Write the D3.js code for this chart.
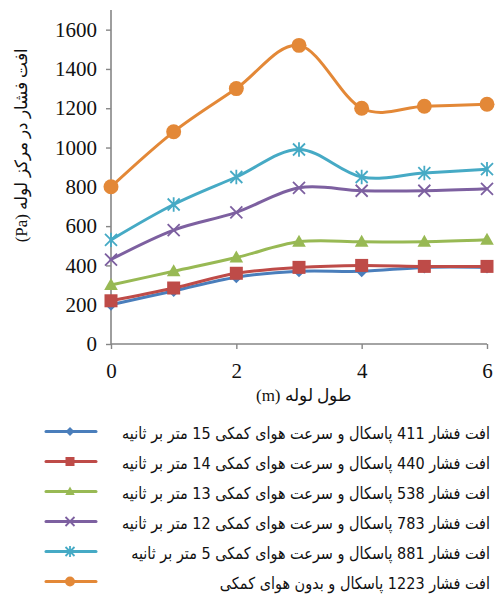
<!DOCTYPE html>
<html>
<head>
<meta charset="utf-8">
<script src="https://cdn.jsdelivr.net/npm/d3@7"></script>
<style>
  html, body { margin: 0; padding: 0; background: #fff; }
  svg { display: block; }
  .serif { font-family: "Liberation Serif", "Times New Roman", "DejaVu Serif", serif; }
</style>
</head>
<body>
<svg id="chart" width="495" height="594"></svg>
<script>
const xValues = [0, 1, 2, 3, 4, 5, 6];
const xTicks = [0, 2, 4, 6];
const yTicks = [0, 200, 400, 600, 800, 1000, 1200, 1400, 1600];

const seriesNames = [
  "افت فشار 411 پاسکال و سرعت هوای کمکی 15 متر بر ثانیه",
  "افت فشار 440 پاسکال و سرعت هوای کمکی 14 متر بر ثانیه",
  "افت فشار 538 پاسکال و سرعت هوای کمکی 13 متر بر ثانیه",
  "افت فشار 783 پاسکال و سرعت هوای کمکی 12 متر بر ثانیه",
  "افت فشار 881 پاسکال و سرعت هوای کمکی 5 متر بر ثانیه",
  "افت فشار 1223 پاسکال و بدون هوای کمکی"
];
const s15 = [200, 270, 340, 370, 370, 390, 390];
const s14 = [220, 285, 360, 390, 400, 395, 395];
const s13 = [300, 370, 440, 520, 520, 520, 530];
const s12 = [430, 580, 670, 795, 780, 780, 790];
const s5  = [530, 710, 850, 990, 850, 870, 890];
const s0  = [800, 1080, 1300, 1520, 1200, 1210, 1220];
const seriesValues = [s15, s14, s13, s12, s5, s0];
const colors = ["#4A7EBB", "#BE4B48", "#98B954", "#7D60A0", "#46AAC5", "#E38837"];
const markers = ["diamond", "square", "triangle", "x", "star", "circle"];

const yTitle = "افت فشار در مرکز لوله  (Pa)";
const xTitle = "طول لوله (m)";

const svg = d3.select("#chart");
const axisColor = "#868686";

const x = d3.scaleLinear().domain([0, 6]).range([111, 487]);
const y = d3.scaleLinear().domain([0, 1700]).range([344, 10]);

const yAxis = svg.append("g").attr("transform", `translate(${x(0)},0)`)
  .call(d3.axisLeft(y).tickValues(yTicks).tickSize(5).tickPadding(9).tickFormat(d3.format("d")));
const xAxis = svg.append("g").attr("transform", `translate(0,${y(0)})`)
  .call(d3.axisBottom(x).tickValues(xTicks).tickSize(5).tickPadding(14).tickFormat(d3.format("d")));
[yAxis, xAxis].forEach(g => {
  g.attr("font-family", null).attr("font-size", null).attr("class", "serif");
  g.select(".domain").attr("stroke", axisColor).attr("stroke-width", 1.6);
  g.selectAll(".tick line").attr("stroke", axisColor).attr("stroke-width", 1.4);
  g.selectAll("text").attr("fill", "#111").style("font-size", "21px");
});
yAxis.select(".domain").attr("d", `M0,${y(0)}V${y(1700)}`);
xAxis.select(".domain").attr("d", `M${x(0)},0H${x(6)}`);

svg.append("text")
  .attr("class", "serif")
  .attr("transform", `translate(23,${(40 + 250) / 2}) rotate(-90)`)
  .attr("text-anchor", "middle")
  .attr("dominant-baseline", "middle")
  .style("font-size", "17px").attr("fill", "#111")
  .attr("direction", "rtl")
  .text(yTitle);
svg.append("text")
  .attr("class", "serif")
  .attr("x", 304).attr("y", 401)
  .attr("text-anchor", "middle")
  .attr("direction", "rtl")
  .style("font-size", "17px").attr("fill", "#111")
  .text(xTitle);

function drawMarker(g, type, color, s) {
  if (type === "diamond") {
    g.append("path").attr("d", `M0,${-s}L${s},0L0,${s}L${-s},0Z`).attr("fill", color);
  } else if (type === "square") {
    g.append("rect").attr("x", -s).attr("y", -s).attr("width", 2 * s).attr("height", 2 * s).attr("fill", color);
  } else if (type === "triangle") {
    g.append("path").attr("d", `M0,${-s * 1.1}L${s * 1.05},${s * 0.75}L${-s * 1.05},${s * 0.75}Z`).attr("fill", color);
  } else if (type === "x") {
    g.append("path").attr("d", `M${-s},${-s}L${s},${s}M${-s},${s}L${s},${-s}`).attr("stroke", color).attr("stroke-width", 1.8);
  } else if (type === "star") {
    g.append("path").attr("d", `M${-s},${-s}L${s},${s}M${-s},${s}L${s},${-s}M0,${-s * 1.2}L0,${s * 1.2}`).attr("stroke", color).attr("stroke-width", 1.8);
  } else if (type === "circle") {
    g.append("circle").attr("r", s * 1.1).attr("fill", color);
  }
}
const markerSize = { diamond: 6, square: 6.5, triangle: 6.5, x: 6, star: 6, circle: 6.8 };

const line = d3.line().x((d, i) => x(xValues[i])).y(d => y(d)).curve(d3.curveCardinal.tension(0));

seriesValues.forEach((vals, k) => {
  const g = svg.append("g");
  g.append("path").datum(vals).attr("d", line)
    .attr("fill", "none").attr("stroke", colors[k]).attr("stroke-width", 3)
    .attr("stroke-linejoin", "round").attr("stroke-linecap", "round");
  vals.forEach((v, i) => {
    const mg = g.append("g").attr("transform", `translate(${x(xValues[i])},${y(v)})`);
    drawMarker(mg, markers[k], colors[k], markerSize[markers[k]]);
  });
});

const legendY = [431.5, 461.5, 491.5, 521.5, 551.5, 581.5];
const legendTexts = [];
seriesNames.forEach((name, k) => {
  const g = svg.append("g").attr("transform", `translate(0,${legendY[k]})`);
  g.append("line").attr("x1", 46).attr("x2", 96).attr("y1", 0).attr("y2", 0)
    .attr("stroke", colors[k]).attr("stroke-width", 3).attr("stroke-linecap", "round");
  const mg = g.append("g").attr("transform", "translate(70,0)");
  drawMarker(mg, markers[k], colors[k], 4.5);
  const t = g.append("g").attr("transform", "translate(490,7)").append("text")
    .attr("x", 0).attr("y", 0)
    .attr("direction", "rtl").attr("text-anchor", "start")
    .style("font-family", "'DejaVu Sans', sans-serif").style("font-size", "16.5px").attr("fill", "#111")
    .text(name);
  legendTexts.push(t);
});
const w0 = legendTexts[0].node().getComputedTextLength();
const sx = w0 > 0 ? 368 / w0 : 1;
legendTexts.forEach(t => t.attr("transform", `scale(${sx},1)`));
</script>
</body>
</html>
